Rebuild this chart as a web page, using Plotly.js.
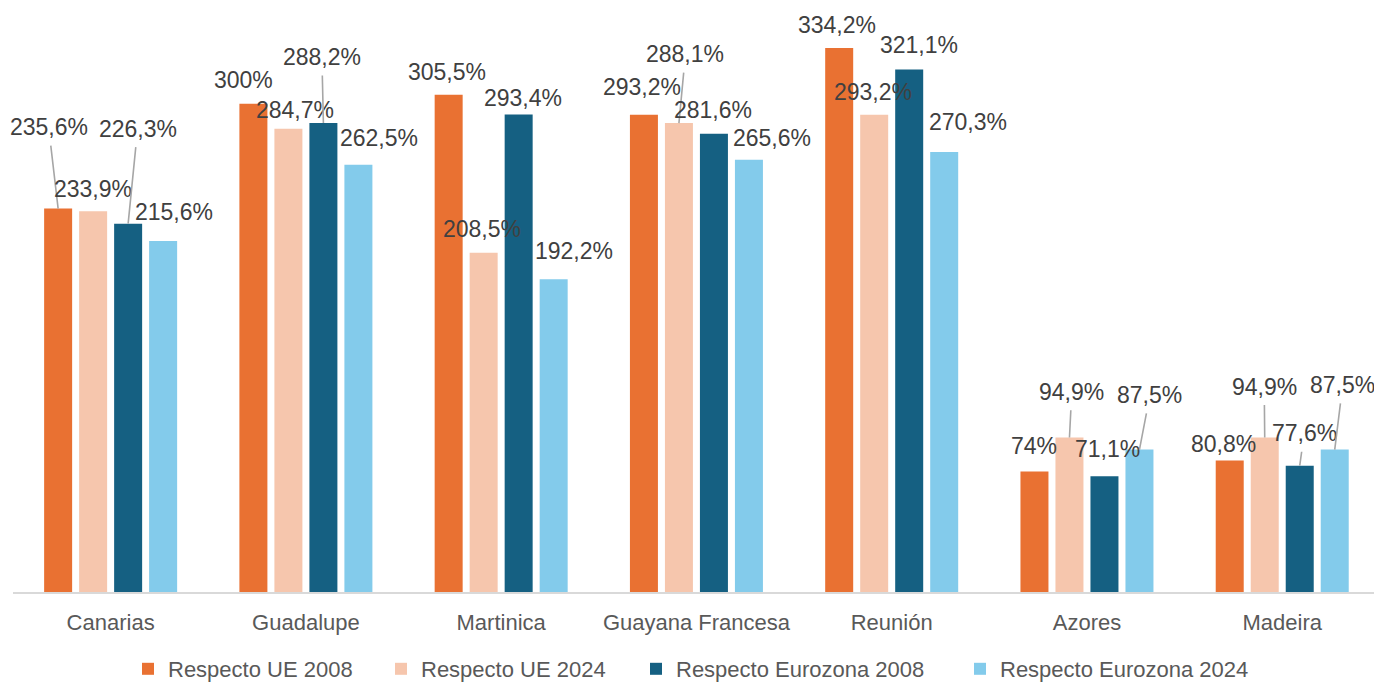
<!DOCTYPE html>
<html><head><meta charset="utf-8">
<script src="https://cdn.plot.ly/plotly-3.0.1.min.js"></script>
<style>html,body{margin:0;padding:0;background:#fff}#chart{width:1374px;height:684px}</style>
</head><body><div id="chart"></div>
<script>
// ---- data ----
const categories = ['Canarias', 'Guadalupe', 'Martinica', 'Guayana Francesa', 'Reunión', 'Azores', 'Madeira'];
const seriesNames = ['Respecto UE 2008', 'Respecto UE 2024', 'Respecto Eurozona 2008', 'Respecto Eurozona 2024'];
const ue2008 = [235.6, 300, 305.5, 293.2, 334.2, 74, 80.8];
const ue2024 = [233.9, 284.7, 208.5, 288.1, 293.2, 94.9, 94.9];
const ez2008 = [226.3, 288.2, 293.4, 281.6, 321.1, 71.1, 77.6];
const ez2024 = [215.6, 262.5, 192.2, 265.6, 270.3, 87.5, 87.5];

// ---- style / layout ----
const colors = ['#E97132', '#F6C6AD', '#156082', '#83CBEB'];
const FONT = '"Liberation Sans", Arial, sans-serif';
const bargap = 0.283, bargroupgap = 0.2;
// label placement: pixel offset [dx, dy] of label centre from bar top, and whether a leader line is drawn
const labelPlacement = [
  [[-9.5, -81.5, 1], [-0.5, -22, 0], [9.5, -95, 1], [10.5, -29, 0]],
  [[-9.5, -24, 0], [6.5, -18.5, 0], [-1.5, -66, 1], [20.5, -27, 0]],
  [[-2, -23, 0], [-1.5, -23.5, 0], [4, -16, 0], [20.5, -27.7, 0]],
  [[-2, -28, 0], [6.5, -69, 1], [-0.5, -23.6, 0], [23.5, -22, 0]],
  [[-2, -23, 0], [-1, -23, 0], [10, -24.4, 0], [23.5, -30, 0]],
  [[0, -25.5, 0], [2.3, -45.8, 1], [3.3, -27, 0], [10.5, -54.6, 1]],
  [[-6, -17, 0], [-0.5, -51, 1], [4.5, -32.4, 1], [8, -64.6, 1]]
];
const legendX = [128, 381, 636, 960];

const series = [ue2008, ue2024, ez2008, ez2024];
const fmt = v => String(v).replace('.', ',') + '%';

const traces = series.map((vals, i) => ({
  type: 'bar',
  name: seriesNames[i],
  x: categories,
  y: vals,
  marker: {color: colors[i]},
  hoverinfo: 'skip',
  legend: i === 0 ? 'legend' : 'legend' + (i + 1)
}));

const slot = (1 - bargap) / series.length;
const annotations = [];
categories.forEach((c, ci) => {
  series.forEach((vals, si) => {
    const [dx, dy, leader] = labelPlacement[ci][si];
    const a = {
      xref: 'x', yref: 'y',
      x: ci + (si - (series.length - 1) / 2) * slot,
      y: vals[ci],
      text: fmt(vals[ci]),
      font: {family: FONT, size: 23, color: '#404040'}
    };
    if (leader) {
      Object.assign(a, {showarrow: true, arrowhead: 0, arrowwidth: 1.6, arrowcolor: '#A6A6A6',
        ax: dx, ay: dy, axref: 'pixel', ayref: 'pixel', startstandoff: 4});
    } else {
      Object.assign(a, {showarrow: false, xshift: dx, yshift: -dy});
    }
    annotations.push(a);
  });
});

const W = 1374, H = 684, ML = 13, MR = 0, MT = 10, MB = 92;
const plotW = W - ML - MR, plotH = H - MT - MB;
const legendBase = {orientation: 'h', xanchor: 'left', yanchor: 'middle', y: (592 - 669) / plotH,
  font: {family: FONT, size: 22, color: '#595959'}, bgcolor: 'rgba(0,0,0,0)', borderwidth: 0};
const layout = {
  width: W, height: H,
  margin: {l: ML, r: MR, t: MT, b: MB, autoexpand: false},
  paper_bgcolor: '#fff', plot_bgcolor: '#fff',
  barmode: 'group', bargap: bargap, bargroupgap: bargroupgap,
  showlegend: true,
  xaxis: {type: 'category', range: [-0.5, 6.47], showline: true, linecolor: '#D9D9D9', linewidth: 2,
    ticks: '', ticklabelstandoff: 10, tickfont: {family: FONT, size: 22, color: '#595959'},
    showgrid: false, zeroline: false, fixedrange: true, automargin: false},
  yaxis: {range: [0, 357.6], visible: false, showgrid: false, zeroline: false, fixedrange: true},
  annotations: annotations
};
legendX.forEach((px, i) => {
  layout[i === 0 ? 'legend' : 'legend' + (i + 1)] = Object.assign({}, legendBase, {x: (px - ML) / plotW});
});

Plotly.newPlot('chart', traces, layout, {displayModeBar: false, staticPlot: true});
</script>
</body></html>
